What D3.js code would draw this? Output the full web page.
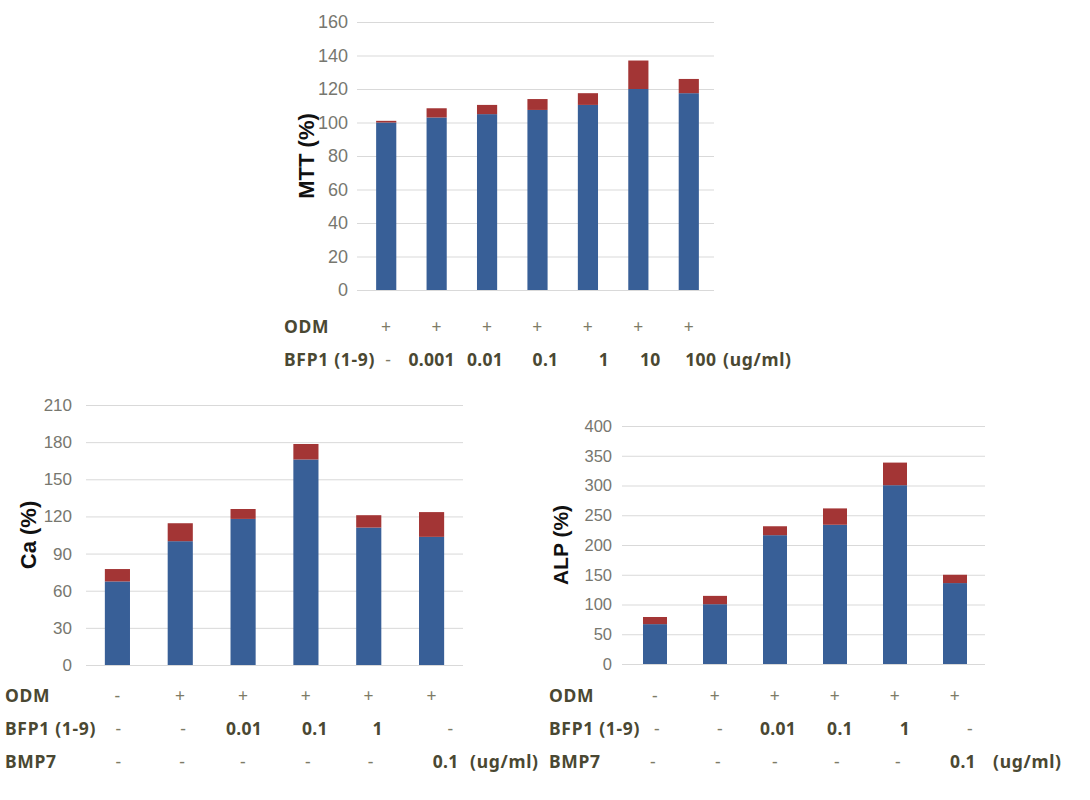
<!DOCTYPE html>
<html>
<head>
<meta charset="utf-8">
<script src="https://cdn.jsdelivr.net/npm/d3@7"></script>
<style>
  html, body { margin: 0; padding: 0; background: #ffffff; }
  svg { display: block; }
</style>
</head>
<body>
<script>
// ---------------- DATA ----------------
// MTT panel
const mttCategories = ["ctrl", "0.001", "0.01", "0.1", "1", "10", "100"];
const mttMean = [100, 103, 105, 107.5, 110.5, 120, 117.5];
const mttError = [1, 5.5, 5.5, 6.5, 7, 17, 8.5];
const mttODM = ["+", "+", "+", "+", "+", "+", "+"];
const mttBFP = ["-", "0.001", "0.01", "0.1", "1", "10", "100"];
const mttTicks = [0, 20, 40, 60, 80, 100, 120, 140, 160];

// Ca and ALP panels share conditions
const groupCategories = ["control", "ODM", "BFP1 0.01", "BFP1 0.1", "BFP1 1", "BMP7 0.1"];
const groupODM = ["-", "+", "+", "+", "+", "+"];
const groupBFP = ["-", "-", "0.01", "0.1", "1", "-"];
const groupBMP = ["-", "-", "-", "-", "-", "0.1"];

const caMean = [67.5, 100, 118, 166, 111, 103.5];
const caError = [10, 14.5, 8, 12.5, 10, 20];
const caTicks = [0, 30, 60, 90, 120, 150, 180, 210];

const alpMean = [67, 100.5, 216.5, 234, 300.5, 136];
const alpError = [12, 14, 15, 27.5, 38, 14];
const alpTicks = [0, 50, 100, 150, 200, 250, 300, 350, 400];

// ---------------- STYLE ----------------
const BLUE = "#385f97";
const RED = "#a33535";
const GRID = "#d9d9d9";
const TICK_COLOR = "#77776f";
const ROW_COLOR = "#4a4832";
const SIGN_COLOR = "#7d7b66";
const ROW_FONT = "'Noto Sans', 'DejaVu Sans', sans-serif";

const svg = d3.select("body").append("svg")
  .attr("width", 1090).attr("height", 800);

function drawPanel(cfg) {
  const g = svg.append("g");
  const x = d3.scaleBand().domain(cfg.categories).range(cfg.xRange)
    .paddingInner(0.6).paddingOuter(0.3);
  const y = d3.scaleLinear().domain([0, cfg.ticks[cfg.ticks.length - 1]]).range(cfg.yRange);

  // grid + tick labels
  const axis = d3.axisLeft(y).tickValues(cfg.ticks)
    .tickSize(-(cfg.xRange[1] - cfg.gridStart))
    .tickPadding(cfg.tickPadding)
    .tickFormat(d3.format("d"));
  const ag = g.append("g").attr("transform", `translate(${cfg.gridStart},0)`).call(axis);
  ag.select(".domain").remove();
  ag.selectAll(".tick line").attr("stroke", GRID).attr("stroke-width", 1);
  ag.selectAll(".tick text")
    .attr("fill", TICK_COLOR)
    .style("font-family", "'Liberation Sans', Arial, sans-serif")
    .style("font-size", cfg.tickSize + "px");

  // stacked bars
  const rows = cfg.categories.map((c, i) => ({ cat: c, mean: cfg.mean[i], err: cfg.error[i] }));
  const stack = d3.stack().keys(["mean", "err"])(rows);
  const colors = { mean: BLUE, err: RED };
  g.append("g").selectAll("g").data(stack).join("g")
    .attr("fill", d => colors[d.key])
    .selectAll("rect").data(d => d).join("rect")
    .attr("x", d => x(d.data.cat))
    .attr("width", x.bandwidth())
    .attr("y", d => y(d[1]))
    .attr("height", d => y(d[0]) - y(d[1]));

  // y-axis title
  const cy = (cfg.yRange[0] + cfg.yRange[1]) / 2;
  g.append("text")
    .attr("transform", `translate(${cfg.titleX},${cy}) rotate(-90)`)
    .attr("text-anchor", "middle")
    .attr("dominant-baseline", "central")
    .style("font-family", "'Liberation Sans', Arial, sans-serif")
    .style("font-weight", "bold")
    .style("font-size", cfg.titleSize + "px")
    .attr("fill", "#111")
    .text(cfg.title);

  // condition rows under the chart
  cfg.rows.forEach((row, ri) => {
    const by = cfg.rowY[ri];
    g.append("text")
      .attr("x", cfg.rowLabelX).attr("y", by)
      .attr("fill", ROW_COLOR)
      .style("font-family", ROW_FONT).style("font-weight", "bold")
      .style("font-size", "17.5px").style("letter-spacing", "0.7px")
      .text(row.name);
    g.append("g").selectAll("text").data(row.values).join("text")
      .attr("x", (d, i) => x(cfg.categories[i]) + x.bandwidth() / 2 + (row.dx ? row.dx[i] : 0))
      .attr("y", by)
      .attr("text-anchor", "middle")
      .attr("fill", d => (d === "-" || d === "+") ? SIGN_COLOR : ROW_COLOR)
      .style("font-family", ROW_FONT)
      .style("font-weight", d => (d === "-" || d === "+") ? "normal" : "bold")
      .style("font-size", "17.5px")
      .style("letter-spacing", "0.3px")
      .text(d => d);
    if (row.unitX) {
      g.append("text")
        .attr("x", row.unitX).attr("y", by)
        .attr("fill", ROW_COLOR)
        .style("font-family", ROW_FONT).style("font-weight", "bold")
        .style("font-size", "17.5px").style("letter-spacing", "0.7px")
        .text("(ug/ml)");
    }
  });
}

// MTT (top)
drawPanel({
  categories: mttCategories, mean: mttMean, error: mttError, ticks: mttTicks,
  xRange: [361, 714], gridStart: 357, yRange: [290, 22], tickPadding: 9, tickSize: 18,
  title: "MTT (%)", titleX: 306, titleSize: 22,
  rowLabelX: 284, rowY: [333, 366],
  rows: [
    { name: "ODM", values: mttODM },
    { name: "BFP1 (1-9)", values: mttBFP, dx: [2, -5, -2, 8, 16, 12, 12], unitX: 723 }
  ]
});

// Ca (bottom left)
drawPanel({
  categories: groupCategories, mean: caMean, error: caError, ticks: caTicks,
  xRange: [86, 463], gridStart: 86, yRange: [665, 405], tickPadding: 14, tickSize: 17,
  title: "Ca (%)", titleX: 28, titleSize: 22,
  rowLabelX: 5, rowY: [702, 735, 768],
  rows: [
    { name: "ODM", values: groupODM },
    { name: "BFP1 (1-9)", values: groupBFP, dx: [1, 3, 1, 9, 9, 19] },
    { name: "BMP7", values: groupBMP, dx: [1, 2, 0, 2, 2, 14], unitX: 470 }
  ]
});

// ALP (bottom right)
drawPanel({
  categories: groupCategories, mean: alpMean, error: alpError, ticks: alpTicks,
  xRange: [625, 985], gridStart: 622, yRange: [664, 426], tickPadding: 10, tickSize: 16.5,
  title: "ALP (%)", titleX: 560, titleSize: 21,
  rowLabelX: 549, rowY: [702, 735, 768],
  rows: [
    { name: "ODM", values: groupODM },
    { name: "BFP1 (1-9)", values: groupBFP, dx: [2, 5, 3, 5, 10, 15] },
    { name: "BMP7", values: groupBMP, dx: [-2, 3, 0, 2, 3, 8], unitX: 993 }
  ]
});
</script>
</body>
</html>
